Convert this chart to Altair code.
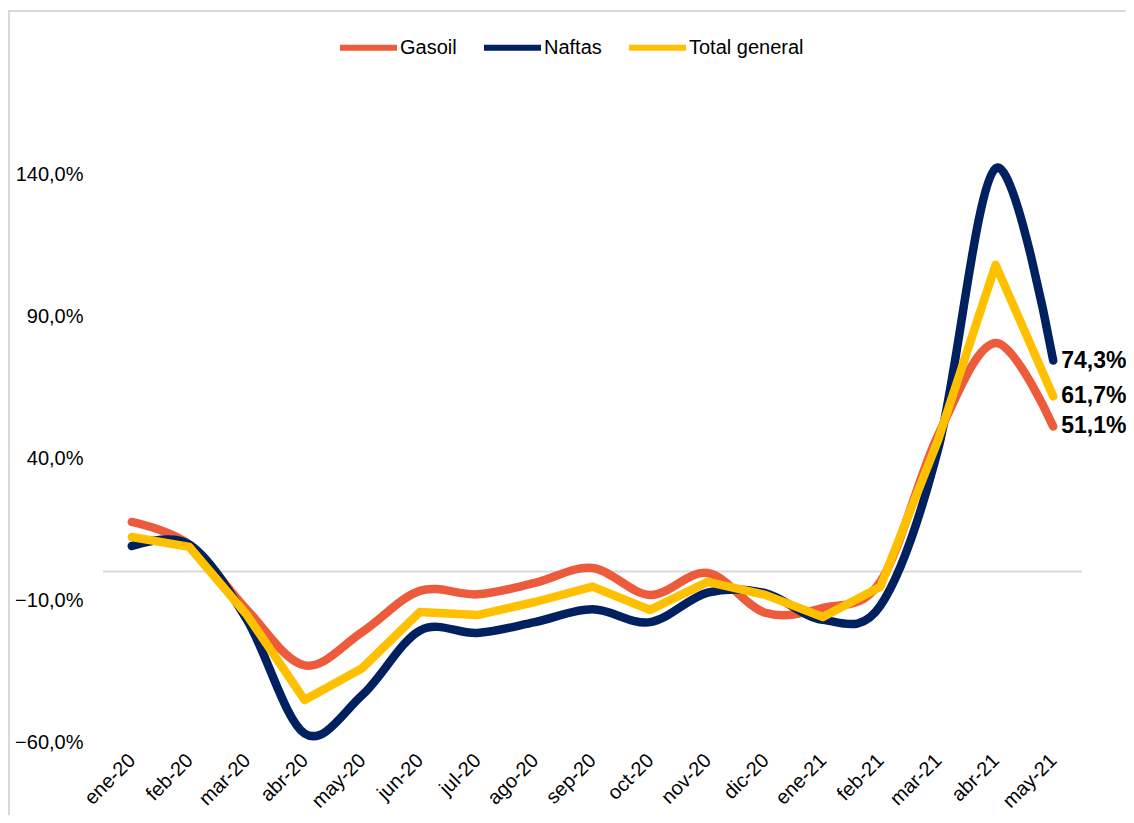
import altair as alt
import pandas as pd

months = ["ene-20", "feb-20", "mar-20", "abr-20", "may-20", "jun-20", "jul-20", "ago-20",
          "sep-20", "oct-20", "nov-20", "dic-20", "ene-21", "feb-21", "mar-21", "abr-21", "may-21"]
gasoil = [17.5, 9.5, -13.5, -33.0, -21.3, -6.8, -8.0, -4.0, 1.3, -8.2, -0.5, -14.5, -12.8, -3.5, 48.0, 80.5, 51.1]
naftas = [9.0, 9.5, -17.0, -57.0, -43.5, -20.8, -21.6, -17.8, -13.3, -17.8, -7.4, -7.6, -17.0, -12.0, 43.0, 142.0, 74.3]
total = [12.2, 8.7, -15.3, -45.2, -34.0, -14.2, -15.3, -10.7, -5.3, -13.5, -3.6, -8.2, -16.0, -5.3, 46.3, 108.0, 61.7]

series = ["Gasoil", "Naftas", "Total general"]
colors = ["#EC5B3C", "#002060", "#FFC000"]
y_ticks = [-60, -10, 40, 90, 140]

rows = []
for name, vals in zip(series, [gasoil, naftas, total]):
    for m, v in zip(months, vals):
        rows.append({"month": m, "series": name, "value": v})
df = pd.DataFrame(rows)

W, H = 979, 568
FONT = "Liberation Sans"

x_enc = alt.X("month:N", sort=months, title=None,
              scale=alt.Scale(type="point", padding=0.5),
              axis=alt.Axis(labelAngle=-45, labelAlign="right", labelBaseline="middle",
                            labelFontSize=20, labelColor="#000000",
                            ticks=False, domain=False, grid=False, labelPadding=15))
y_enc = alt.Y("value:Q", title=None,
              scale=alt.Scale(domain=[-60, 140], nice=False, zero=False),
              axis=alt.Axis(values=y_ticks, grid=False, ticks=False, domain=False,
                            labelFontSize=20, labelColor="#000000", labelPadding=20,
                            labelExpr="replace(format(datum.value, '.1f'), '.', ',') + '%'"))
color_enc = alt.Color("series:N", scale=alt.Scale(domain=series, range=colors),
                      legend=alt.Legend(orient="none", legendX=234, legendY=-158,
                                        direction="horizontal", title=None,
                                        symbolType="stroke", symbolSize=3249,
                                        symbolStrokeWidth=6, labelFontSize=20,
                                        labelOffset=0, columnPadding=15,
                                        labelColor="#000000", labelFont=FONT))

base = alt.Chart(df)

border = alt.Chart(pd.DataFrame({"a": [0]})).mark_rect(
    fillOpacity=0, stroke="#d9d9d9", strokeWidth=2
).encode(x=alt.value(-94), x2=alt.value(1200), y=alt.value(-163), y2=alt.value(800))

zero = alt.Chart(pd.DataFrame({"a": [0]})).mark_rule(color="#d9d9d9", strokeWidth=2).encode(
    y=alt.datum(0))

lines = []
for name, interp in zip(series, ["cardinal", "cardinal", "linear"]):
    lines.append(
        base.transform_filter(alt.datum.series == name)
        .mark_line(interpolate=interp, strokeWidth=8.5, strokeCap="round", strokeJoin="round")
        .encode(x=x_enc, y=y_enc, color=color_enc)
    )

labels = base.transform_filter(alt.datum.month == "may-21").transform_calculate(
    label="replace(format(datum.value, '.1f'), '.', ',') + '%'"
).mark_text(align="left", baseline="middle", dx=8, fontSize=23, fontWeight="bold",
            color="#000000", font=FONT).encode(x=x_enc, y=y_enc, text="label:N")

chart = alt.layer(border, zero, *lines, labels).properties(
    width=W, height=H,
    autosize=alt.AutoSizeParams(type="none"),
    padding={"left": 95, "top": 166, "right": 44, "bottom": 73},
    background="#ffffff",
).configure(font=FONT).configure_view(stroke=None)

chart.save("out.html", embed_options={"renderer": "svg", "actions": False})
